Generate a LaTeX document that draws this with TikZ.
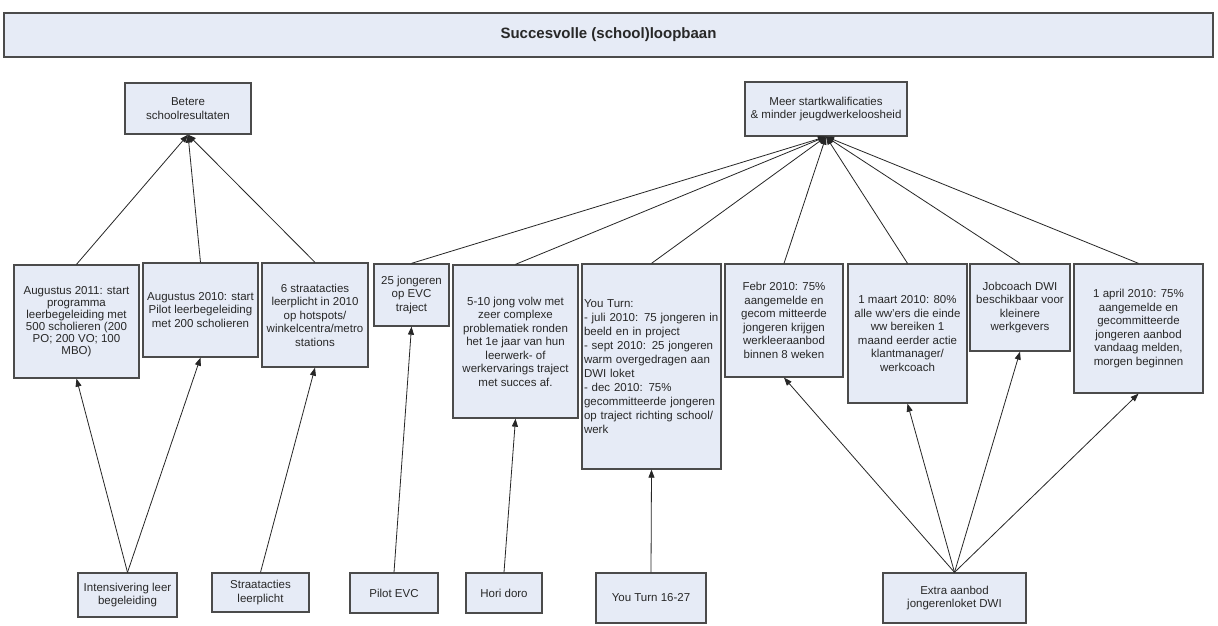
\documentclass[tikz,border=0pt]{standalone}
\usepackage{fontspec}
\setmainfont{Liberation Sans}
\usetikzlibrary{arrows.meta}
\definecolor{boxfill}{RGB}{230,235,246}
\definecolor{boxline}{RGB}{75,75,75}
\definecolor{txt}{RGB}{40,40,40}
\begin{document}
\begin{tikzpicture}[x=1pt,y=-1pt,
  box/.style={draw=boxline, line width=1.3pt, fill=boxfill, text=txt, align=center,
    inner sep=2pt, font=\fontsize{11.5}{13.5}\selectfont},
  arr/.style={draw=black!85, line width=0.8pt, -{Triangle[length=8pt,width=6pt]}}]
\fill[white] (0,0) rectangle (1218,625);
\useasboundingbox (0,0) rectangle (1218,625);
% title
\node[box, minimum width=1209pt, minimum height=44pt, font=\bfseries\fontsize{15}{17}\selectfont] (title) at (608.5,35) {Succesvolle (school)loopbaan};
% goals
\node[box, minimum width=126pt, minimum height=51pt] (betere) at (188,108.5) {Betere\\schoolresultaten};
\node[box, minimum width=162pt, minimum height=54pt] (meer) at (826,109) {Meer startkwalificaties\\\& minder jeugdwerkeloosheid};
% middle row
\node[box, minimum width=125pt, minimum height=113pt, font=\fontsize{11.5}{12}\selectfont] (a1) at (76.5,321.5) {Augustus 2011: start\\programma\\leerbegeleiding met\\500 scholieren (200\\PO; 200 VO; 100\\MBO)};
\node[box, minimum width=115pt, minimum height=94pt] (a2) at (200.5,310) {Augustus 2010: start\\Pilot leerbegeleiding\\met 200 scholieren};
\node[box, minimum width=106pt, minimum height=104pt] (a3) at (315,315) {6 straatacties\\leerplicht in 2010\\op hotspots/\\winkelcentra/metro\\stations};
\node[box, minimum width=75pt, minimum height=62pt] (b1) at (411.5,295) {25 jongeren\\op EVC\\traject};
\node[box, minimum width=125pt, minimum height=153pt] (b2) at (515.5,341.5) {5-10 jong volw met\\zeer complexe\\problematiek ronden\\het 1e jaar van hun\\leerwerk- of\\werkervarings traject\\met succes af.};
\node[box, text width=135pt, inner sep=2pt, align=left, minimum height=205pt, font=\fontsize{11.5}{14}\selectfont] (b3) at (651.5,366.5) {You Turn:\\- juli 2010: 75 jongeren in\\beeld en in project\\- sept 2010: 25 jongeren\\warm overgedragen aan\\DWI loket\\- dec 2010: 75\%\\gecommitteerde jongeren\\op traject richting school/\\werk};
\node[box, minimum width=118pt, minimum height=113pt] (b4) at (784,320.5) {Febr 2010: 75\%\\aangemelde en\\gecom mitteerde\\jongeren krijgen\\werkleeraanbod\\binnen 8 weken};
\node[box, minimum width=119pt, minimum height=139pt] (b5) at (907.5,333.5) {1 maart 2010: 80\%\\alle ww'ers die einde\\ww bereiken 1\\maand eerder actie\\klantmanager/\\werkcoach};
\node[box, minimum width=100pt, minimum height=87pt] (b6) at (1020,307.5) {Jobcoach DWI\\beschikbaar voor\\kleinere\\werkgevers};
\node[box, minimum width=129pt, minimum height=129pt] (b7) at (1138.5,328.5) {1 april 2010: 75\%\\aangemelde en\\gecommitteerde\\jongeren aanbod\\vandaag melden,\\morgen beginnen};
% bottom row
\node[box, minimum width=99pt, minimum height=44pt] (c1) at (127.5,595) {Intensivering leer\\begeleiding};
\node[box, minimum width=97pt, minimum height=39pt] (c2) at (260.5,592.5) {Straatacties\\leerplicht};
\node[box, minimum width=88pt, minimum height=40pt] (c3) at (394,593) {Pilot EVC};
\node[box, minimum width=76pt, minimum height=40pt] (c4) at (504,593) {Hori doro};
\node[box, minimum width=110pt, minimum height=50pt] (c5) at (651,598) {You Turn 16-27};
\node[box, minimum width=143pt, minimum height=50pt] (c6) at (954.5,598) {Extra aanbod\\jongerenloket DWI};
% to goals
\foreach \n in {a1,a2,a3} \draw[arr] (\n.north) -- (betere.south);
\foreach \n in {b1,b2,b3,b4,b5,b6,b7} \draw[arr] (\n.north) -- (meer.south);
% from activities
\draw[arr] (c1.north) -- (a1.south);
\draw[arr] (c1.north) -- (a2.south);
\draw[arr] (c2.north) -- (a3.south);
\draw[arr] (c3.north) -- (b1.south);
\draw[arr] (c4.north) -- (b2.south);
\draw[arr] (c5.north) -- (b3.south);
\foreach \n in {b4,b5,b6,b7} \draw[arr] (c6.north) -- (\n.south);
\end{tikzpicture}
\end{document}
